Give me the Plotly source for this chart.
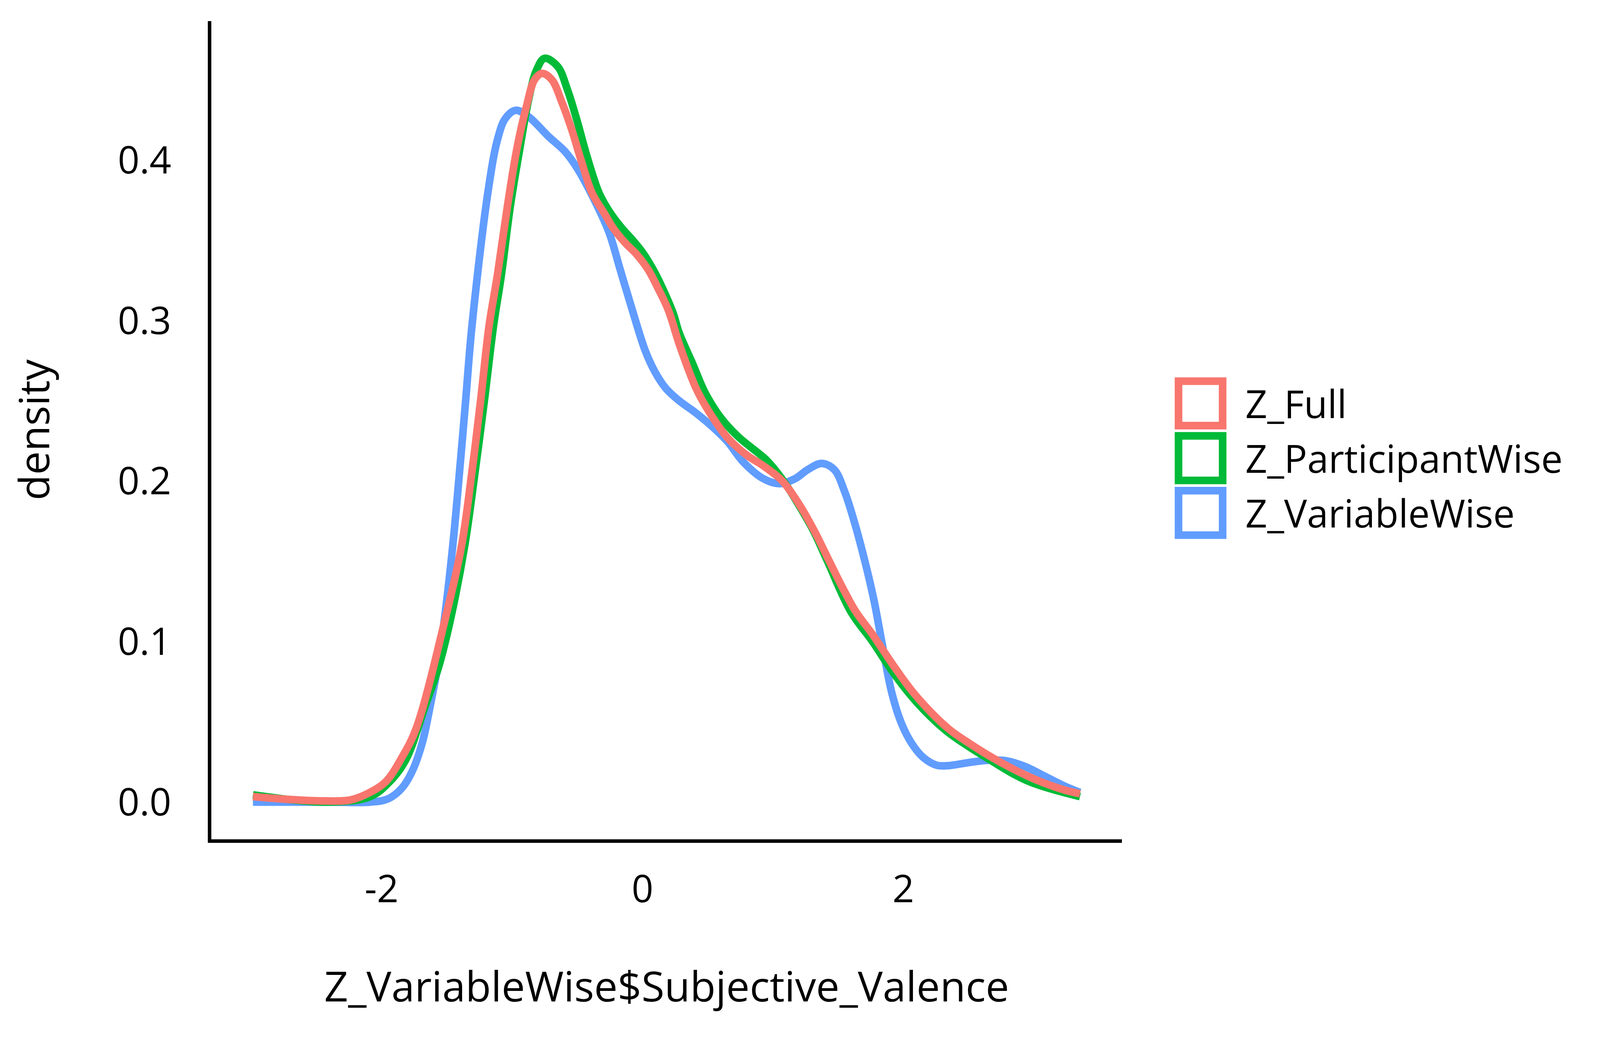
import plotly.graph_objects as go

# density curves (x value, density)
full_x = [-2.987, -2.698, -2.422, -2.240, -2.088, -1.966, -1.844, -1.737, -1.510, -1.386,
          -1.308, -1.240, -1.177, -1.111, -1.036, -0.962, -0.888, -0.828, -0.769, -0.694,
          -0.620, -0.545, -0.471, -0.385, -0.297, -0.220, -0.132, -0.045, 0.043, 0.120,
          0.198, 0.286, 0.415, 0.534, 0.653, 0.802, 0.927, 1.073, 1.199, 1.316,
          1.432, 1.529, 1.636, 1.763, 1.912, 2.061, 2.209, 2.358, 2.506, 2.655,
          2.804, 2.953, 3.101, 3.250, 3.355]
full_y = [0.0034, 0.0016, 0.0007, 0.0013, 0.0061, 0.0129, 0.0279, 0.0455, 0.1150, 0.1603,
          0.2056, 0.2510, 0.2963, 0.329, 0.371, 0.4075, 0.434, 0.450, 0.454, 0.450,
          0.4365, 0.4196, 0.400, 0.3792, 0.3674, 0.3571, 0.3484, 0.3413, 0.3318, 0.3200,
          0.3066, 0.2844, 0.2571, 0.2402, 0.2269, 0.2160, 0.2095, 0.2000, 0.1858, 0.1692,
          0.1502, 0.1344, 0.1186, 0.1046, 0.0865, 0.0698, 0.0562, 0.0449, 0.0366, 0.0290,
          0.0222, 0.0162, 0.0112, 0.0072, 0.0052]

part_x = [-2.987, -2.422, -2.088, -1.936, -1.814, -1.668, -1.561, -1.469, -1.362, -1.284,
          -1.211, -1.143, -1.081, -1.014, -0.940, -0.873, -0.813, -0.751, -0.650, -0.575,
          -0.501, -0.427, -0.331, -0.249, -0.161, -0.074, 0.004, 0.082, 0.159, 0.237,
          0.282, 0.386, 0.475, 0.594, 0.728, 0.892, 0.947, 1.082, 1.193, 1.310,
          1.418, 1.598, 1.763, 1.912, 2.061, 2.209, 2.358, 2.655, 2.953, 3.355]
part_y = [0.0045, 0.0000, 0.0034, 0.0129, 0.0265, 0.0594, 0.0848, 0.1150, 0.1603, 0.2056,
          0.2510, 0.2963, 0.329, 0.371, 0.4075, 0.4377, 0.456, 0.4634, 0.4583, 0.4438,
          0.4244, 0.4027, 0.3792, 0.3674, 0.3579, 0.3500, 0.3421, 0.3318, 0.3192, 0.3042,
          0.2922, 0.2729, 0.2559, 0.2402, 0.2281, 0.2172, 0.2134, 0.2000, 0.1858, 0.1692,
          0.1502, 0.1186, 0.1001, 0.0819, 0.0661, 0.0532, 0.0426, 0.0268, 0.0132, 0.0034]

var_x = [-2.987, -2.41, -2.088, -1.951, -1.844, -1.763, -1.687, -1.629, -1.570, -1.517,
         -1.454, -1.403, -1.355, -1.308, -1.185, -1.111, -1.051, -0.972, -0.873, -0.724,
         -0.590, -0.501, -0.394, -0.259, -0.171, -0.084, 0.021, 0.096, 0.177, 0.282,
         0.401, 0.534, 0.653, 0.772, 0.927, 1.053, 1.170, 1.267, 1.374, 1.471,
         1.549, 1.627, 1.705, 1.773, 1.837, 1.912, 1.986, 2.061, 2.150, 2.254,
         2.343, 2.492, 2.641, 2.789, 2.938, 3.087, 3.235, 3.355]
var_y = [0.000, 0.000, 0.000, 0.002, 0.0088, 0.0197, 0.0374, 0.0594, 0.0848, 0.1150,
         0.1603, 0.2056, 0.2510, 0.2963, 0.380, 0.413, 0.426, 0.431, 0.427, 0.415,
         0.405, 0.395, 0.3792, 0.3555, 0.3318, 0.3082, 0.2813, 0.268, 0.258, 0.250,
         0.243, 0.234, 0.2245, 0.212, 0.2015, 0.1984, 0.2015, 0.2071, 0.2110, 0.2071,
         0.1937, 0.1739, 0.1502, 0.1265, 0.099, 0.068, 0.049, 0.037, 0.028, 0.023,
         0.0227, 0.0245, 0.026, 0.0257, 0.022, 0.016, 0.010, 0.006]

series_names = ['Z_Full', 'Z_ParticipantWise', 'Z_VariableWise']
series_colors = ['#F8766D', '#00BA38', '#619CFF']
x_ticks = [-2, 0, 2]
y_ticks = [0.0, 0.1, 0.2, 0.3, 0.4]

FONT = 'Open Sans'
SCALE = 0.973  # page comes out a bit enlarged when photographed
LINE_W = 20
BOX_W = 20


def s(v):
    return v * SCALE


# layout in reference pixels
W, H = 4200, 2700
L, R, T, B = 548, 1257, 47, 501
plot_w = W - L - R
plot_h = H - T - B


def px_x(px):
    return (px - L) / plot_w


def px_y(py):
    return (H - B - py) / plot_h


fig = go.Figure()

### blue first, red on top, like the reference
for xs, ys, name, col in [(var_x, var_y, series_names[2], series_colors[2]),
                          (part_x, part_y, series_names[1], series_colors[1]),
                          (full_x, full_y, series_names[0], series_colors[0])]:
    fig.add_trace(go.Scatter(x=xs, y=ys, mode='lines', name=name,
                             line=dict(color=col, width=s(LINE_W), shape='spline', smoothing=1.0),
                             showlegend=False))

### hand made legend: outlined boxes + labels (outer edge 136 px square)
half = BOX_W / 2
for i, (name, col) in enumerate(zip(series_names, series_colors)):
    top = 984 + i * 144
    fig.add_shape(type='rect', xref='paper', yref='paper',
                  x0=px_x(3082 + half), x1=px_x(3218 - half),
                  y0=px_y(top + 137 - half), y1=px_y(top + half),
                  line=dict(color=col, width=s(BOX_W)), fillcolor='white')
    fig.add_annotation(x=px_x(3266), y=px_y(top + 68), xref='paper', yref='paper',
                       text=name, showarrow=False, xanchor='left', yanchor='middle',
                       font=dict(family=FONT, size=s(101), color='black'))

### axis titles
fig.add_annotation(x=px_x(1745), y=px_y(2583), xref='paper', yref='paper',
                   text='Z_VariableWise$Subjective_Valence', showarrow=False,
                   xanchor='center', yanchor='middle',
                   font=dict(family=FONT, size=s(110), color='black'))
fig.add_annotation(x=px_x(78), y=px_y(1122), xref='paper', yref='paper',
                   text='density', showarrow=False, textangle=-90,
                   xanchor='center', yanchor='middle',
                   font=dict(family=FONT, size=s(110), color='black'))

fig.update_xaxes(range=[-3.306, 3.676], tickvals=x_ticks, ticktext=[str(v) for v in x_ticks],
                 showgrid=False, zeroline=False, showline=True, linecolor='black', linewidth=s(9.5),
                 ticks='', ticklabelstandoff=round(s(36)),
                 tickfont=dict(family=FONT, size=s(100), color='black'))
fig.update_yaxes(range=[-0.0232, 0.4866], tickvals=y_ticks, ticktext=['%.1f' % v for v in y_ticks],
                 showgrid=False, zeroline=False, showline=True, linecolor='black', linewidth=s(9.5),
                 ticks='', ticklabelstandoff=round(s(76)),
                 tickfont=dict(family=FONT, size=s(100), color='black'))

fig.update_layout(width=round(s(W)), height=round(s(H)),
                  margin=dict(l=s(L), r=s(R), t=s(T), b=s(B), autoexpand=False),
                  plot_bgcolor='white', paper_bgcolor='white', showlegend=False)

fig.write_html("out.html")
